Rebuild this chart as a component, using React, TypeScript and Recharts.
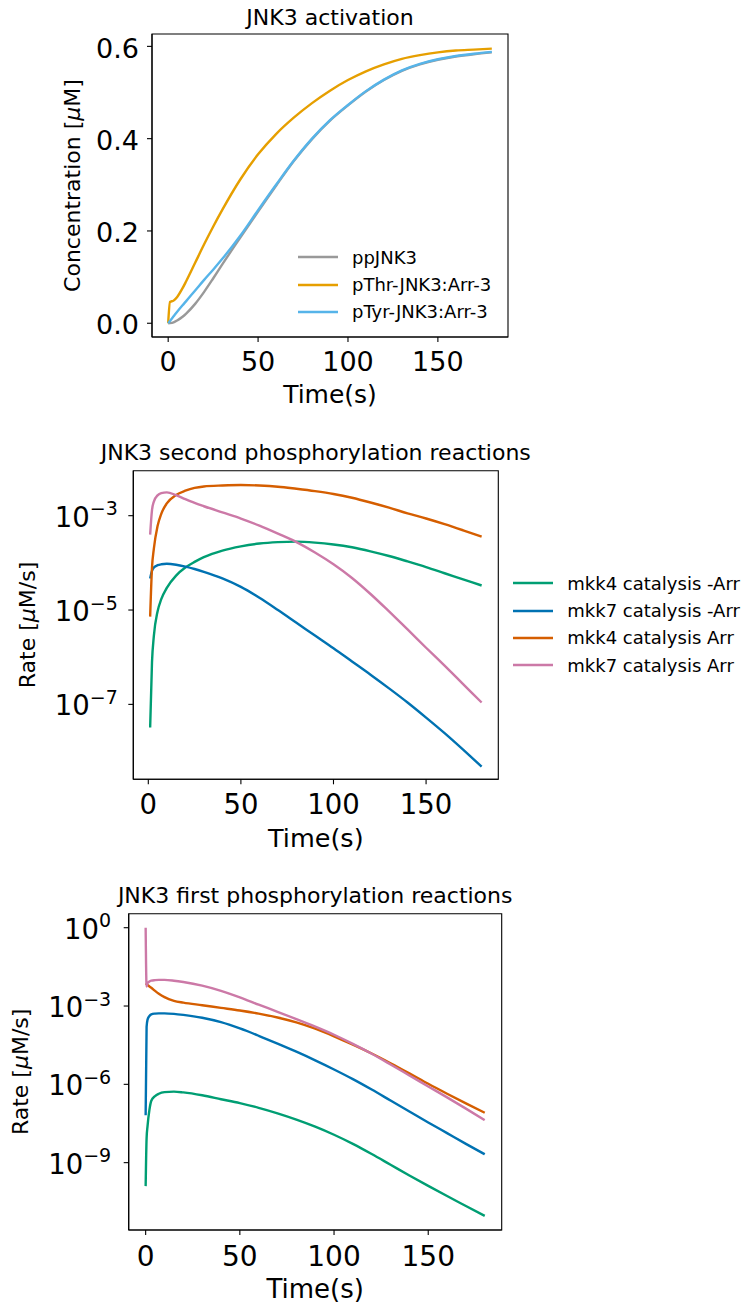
import { Label, Legend, Line, LineChart, ReferenceArea, XAxis, YAxis } from 'recharts';

// ---- JNK3 activation (concentration, uM) ----
const TIME_ACT = [0, 1, 3, 5, 8, 10, 15, 20, 25, 30, 40, 50, 60, 70, 80, 90, 100, 110, 120, 130, 140, 150, 160, 170, 180];
const PP_JNK3 = [0, 0.0003, 0.002, 0.006, 0.014, 0.021, 0.042, 0.068, 0.097, 0.127, 0.185, 0.242, 0.298, 0.352, 0.399, 0.439, 0.472, 0.502, 0.527, 0.547, 0.561, 0.571, 0.578, 0.583, 0.587];
const P_THR_ARR = [0, 0.046, 0.049, 0.057, 0.076, 0.091, 0.131, 0.171, 0.209, 0.245, 0.311, 0.366, 0.41, 0.446, 0.477, 0.504, 0.527, 0.546, 0.561, 0.573, 0.581, 0.587, 0.591, 0.593, 0.595];
const P_TYR_ARR = [0, 0.005, 0.015, 0.025, 0.039, 0.048, 0.071, 0.094, 0.116, 0.139, 0.189, 0.245, 0.3, 0.353, 0.4, 0.44, 0.473, 0.503, 0.528, 0.548, 0.562, 0.572, 0.579, 0.584, 0.588];

// ---- second phosphorylation rates (log10 of uM/s) ----
const TIME_2ND = [1, 2, 3, 5, 7, 10, 15, 20, 25, 30, 40, 50, 60, 70, 80, 90, 100, 110, 120, 130, 140, 150, 160, 170, 180];
const MKK4_NOARR_2 = [-7.49, -6.1, -5.55, -5.03, -4.77, -4.53, -4.27, -4.1, -3.98, -3.88, -3.74, -3.65, -3.59, -3.56, -3.55, -3.57, -3.61, -3.67, -3.755, -3.855, -3.97, -4.09, -4.22, -4.35, -4.48];
const MKK7_NOARR_2 = [-4.33, -4.17, -4.1, -4.05, -4.03, -4.02, -4.04, -4.08, -4.13, -4.19, -4.33, -4.51, -4.74, -5.0, -5.27, -5.54, -5.81, -6.09, -6.37, -6.66, -6.96, -7.28, -7.61, -7.96, -8.32];
const MKK4_ARR_2 = [-5.14, -4.1, -3.7, -3.22, -2.96, -2.74, -2.56, -2.47, -2.41, -2.38, -2.36, -2.35, -2.36, -2.385, -2.43, -2.48, -2.54, -2.62, -2.72, -2.83, -2.95, -3.06, -3.18, -3.31, -3.445];
const MKK7_ARR_2 = [-3.4, -2.88, -2.7, -2.57, -2.52, -2.505, -2.565, -2.65, -2.73, -2.8, -2.93, -3.06, -3.21, -3.38, -3.56, -3.78, -4.03, -4.32, -4.66, -5.03, -5.41, -5.8, -6.18, -6.57, -6.96];

// ---- first phosphorylation rates (log10 of uM/s) ----
const TIME_1ST = [0, 0.5, 1, 2, 3, 5, 7, 10, 15, 20, 30, 40, 50, 60, 70, 80, 90, 100, 110, 120, 130, 140, 150, 160, 170, 180];
const MKK4_NOARR_1 = [-9.9, -8.07, -7.6, -6.98, -6.63, -6.45, -6.36, -6.3, -6.28, -6.31, -6.42, -6.57, -6.72, -6.9, -7.11, -7.35, -7.62, -7.93, -8.28, -8.67, -9.08, -9.49, -9.89, -10.28, -10.66, -11.04];
const MKK7_NOARR_1 = [-7.18, -3.8, -3.52, -3.38, -3.32, -3.29, -3.28, -3.28, -3.3, -3.34, -3.45, -3.62, -3.86, -4.14, -4.44, -4.75, -5.08, -5.43, -5.8, -6.2, -6.62, -7.04, -7.46, -7.87, -8.28, -8.68];
const MKK4_ARR_1 = [-2.13, -2.16, -2.19, -2.25, -2.3, -2.42, -2.53, -2.66, -2.8, -2.87, -2.97, -3.07, -3.17, -3.29, -3.44, -3.63, -3.87, -4.16, -4.48, -4.82, -5.19, -5.58, -5.98, -6.36, -6.73, -7.09];
const MKK7_ARR_1 = [0, -2.25, -2.13, -2.06, -2.03, -2.01, -2.0, -2.0, -2.03, -2.08, -2.22, -2.42, -2.67, -2.95, -3.22, -3.5, -3.79, -4.1, -4.45, -4.83, -5.24, -5.66, -6.08, -6.5, -6.93, -7.37];

const TIME_TICKS = [0, 50, 100, 150];
const CONC_TICKS = [0, 0.2, 0.4, 0.6];
const RATE_TICKS_2ND = [1e-3, 1e-5, 1e-7];
const RATE_TICKS_1ST = [1e0, 1e-3, 1e-6, 1e-9];

const ACT_NAMES = ['ppJNK3', 'pThr-JNK3:Arr-3', 'pTyr-JNK3:Arr-3'];
const RATE_NAMES = ['mkk4 catalysis -Arr', 'mkk7 catalysis -Arr', 'mkk4 catalysis Arr', 'mkk7 catalysis Arr'];

const X_DOM_ACT = [-9, 189];
const Y_DOM_ACT = [-0.0298, 0.6268];
const X_DOM_2ND = [-8.1, 189];
const Y_DOM_2ND = [2.58e-9, 8.99e-3];
const X_DOM_1ST = [-9, 189];
const Y_DOM_1ST = [2.63e-12, 3.44];

const activation = TIME_ACT.map((t, i) => ({ t, pp: PP_JNK3[i], thr: P_THR_ARR[i], tyr: P_TYR_ARR[i] }));
const second = TIME_2ND.map((t, i) => ({
  t,
  m4: 10 ** MKK4_NOARR_2[i],
  m7: 10 ** MKK7_NOARR_2[i],
  m4a: 10 ** MKK4_ARR_2[i],
  m7a: 10 ** MKK7_ARR_2[i],
}));
const first = TIME_1ST.map((t, i) => ({
  t,
  m4: 10 ** MKK4_NOARR_1[i],
  m7: 10 ** MKK7_NOARR_1[i],
  m4a: 10 ** MKK4_ARR_1[i],
  m7a: 10 ** MKK7_ARR_1[i],
}));

const frame = { stroke: '#000', strokeWidth: 1.1 };
const tickLine = { stroke: '#000', strokeWidth: 1.1 };
const LW = 2.4;

const xTick = (size: number, dy: number) => (p: any) => (
  <text x={p.x} y={p.y + dy} textAnchor="middle" fontSize={size} fill="#000">
    {p.payload.value}
  </text>
);

const concTick = (p: any) => (
  <text x={p.x} y={p.y + 11.2} textAnchor="end" fontSize={27} fill="#000">
    {p.payload.value.toFixed(1)}
  </text>
);

const logTick = (p: any) => {
  const exp = Math.round(Math.log10(p.payload.value));
  return (
    <text x={p.x} y={p.y + 11} textAnchor="end" fontSize={27.5} fill="#000">
      10
      <tspan dy={-11.5} fontSize={19}>
        {exp === 0 ? '0' : '\u2212' + Math.abs(exp)}
      </tspan>
    </text>
  );
};

// title sits above the frame rectangle
const title = (text: string, dy: number) => (p: any) => (
  <text x={p.viewBox.x + p.viewBox.width / 2} y={p.viewBox.y + dy} textAnchor="middle" fontSize={22} fill="#000">
    {text}
  </text>
);

const timeLabel = (dy: number, size: number) => (p: any) => (
  <text x={p.viewBox.x + p.viewBox.width / 2} y={p.viewBox.y + dy} textAnchor="middle" fontSize={size} fill="#000">
    Time(s)
  </text>
);

const yLabel = (before: string, after: string, gap: number) => (p: any) => {
  const x = p.viewBox.x + p.viewBox.width - gap;
  const y = p.viewBox.y + p.viewBox.height / 2;
  return (
    <text x={x} y={y} transform={`rotate(-90, ${x}, ${y})`} textAnchor="middle" fontSize={22} fill="#000">
      {before}
      <tspan fontStyle="italic">μ</tspan>
      {after}
    </text>
  );
};

const legendRows = (order: string[]) => (p: any) => {
  const items = [...(p.payload || [])].sort((a: any, b: any) => order.indexOf(a.value) - order.indexOf(b.value));
  return (
    <div>
      {items.map((e: any) => (
        <div key={e.value} style={{ display: 'flex', alignItems: 'center', height: 27.3 }}>
          <svg width={40} height={6}>
            <line x1={0} y1={3} x2={40} y2={3} stroke={e.color} strokeWidth={2.6} />
          </svg>
          <span style={{ marginLeft: 14, fontSize: 18, color: '#000', whiteSpace: 'nowrap' }}>{e.value}</span>
        </div>
      ))}
    </div>
  );
};

const ActivationChart = () => (
  <LineChart width={520} height={420} data={activation} margin={{ top: 34, right: 12, left: 72, bottom: 8 }}>
    <XAxis dataKey="t" type="number" domain={X_DOM_ACT} ticks={TIME_TICKS} allowDataOverflow height={75}
      tickSize={5} tickMargin={10} tickLine={tickLine} axisLine={frame} tick={xTick(27, 19.4)}>
      <Label content={timeLabel(66.3, 25)} />
    </XAxis>
    <YAxis type="number" domain={Y_DOM_ACT} ticks={CONC_TICKS} allowDataOverflow width={80}
      tickSize={5} tickMargin={8} tickLine={tickLine} axisLine={frame} tick={concTick}>
      <Label content={yLabel('Concentration [', 'M]', 72.5)} />
    </YAxis>
    <ReferenceArea x1={X_DOM_ACT[0]} x2={X_DOM_ACT[1]} y1={Y_DOM_ACT[0]} y2={Y_DOM_ACT[1]}
      fill="none" stroke="#000" strokeWidth={1.1} ifOverflow="visible">
      <Label content={title('JNK3 activation', -9)} />
    </ReferenceArea>
    <Legend layout="vertical" align="center" verticalAlign="middle" content={legendRows(ACT_NAMES)}
      wrapperStyle={{ left: 298, top: 243.6, width: 220 }} />
    <Line type="monotone" dataKey="pp" name={ACT_NAMES[0]} stroke="#999999" strokeWidth={LW} dot={false} isAnimationActive={false} />
    <Line type="monotone" dataKey="thr" name={ACT_NAMES[1]} stroke="#E69F00" strokeWidth={LW} dot={false} isAnimationActive={false} />
    <Line type="monotone" dataKey="tyr" name={ACT_NAMES[2]} stroke="#56B4E9" strokeWidth={LW} dot={false} isAnimationActive={false} />
  </LineChart>
);

const SecondChart = () => (
  <LineChart width={750} height={440} data={second} margin={{ top: 40.7, right: 251.7, left: 33.3, bottom: 10.7 }}>
    <XAxis dataKey="t" type="number" domain={X_DOM_2ND} ticks={TIME_TICKS} allowDataOverflow height={80}
      tickSize={5} tickMargin={10} tickLine={tickLine} axisLine={frame} tick={xTick(27.5, 19.7)}>
      <Label content={timeLabel(67.7, 25.5)} />
    </XAxis>
    <YAxis type="number" scale="log" domain={Y_DOM_2ND} ticks={RATE_TICKS_2ND} allowDataOverflow width={100}
      tickSize={5} tickMargin={10.5} tickLine={tickLine} axisLine={frame} tick={logTick}>
      <Label content={yLabel('Rate [', 'M/s]', 98.3)} />
    </YAxis>
    <ReferenceArea x1={X_DOM_2ND[0]} x2={X_DOM_2ND[1]} y1={Y_DOM_2ND[0]} y2={Y_DOM_2ND[1]}
      fill="none" stroke="#000" strokeWidth={1.1} ifOverflow="visible">
      <Label content={title('JNK3 second phosphorylation reactions', -10.7)} />
    </ReferenceArea>
    <Legend layout="vertical" align="center" verticalAlign="middle" content={legendRows(RATE_NAMES)}
      wrapperStyle={{ left: 513.3, top: 139.6, width: 237 }} />
    <Line type="monotone" dataKey="m4" name={RATE_NAMES[0]} stroke="#009E73" strokeWidth={LW} dot={false} isAnimationActive={false} />
    <Line type="monotone" dataKey="m7" name={RATE_NAMES[1]} stroke="#0072B2" strokeWidth={LW} dot={false} isAnimationActive={false} />
    <Line type="monotone" dataKey="m4a" name={RATE_NAMES[2]} stroke="#D55E00" strokeWidth={LW} dot={false} isAnimationActive={false} />
    <Line type="monotone" dataKey="m7a" name={RATE_NAMES[3]} stroke="#CC79A7" strokeWidth={LW} dot={false} isAnimationActive={false} />
  </LineChart>
);

const FirstChart = () => (
  <LineChart width={520} height={438} data={first} margin={{ top: 43.7, right: 18.3, left: 28.7, bottom: 3 }}>
    <XAxis dataKey="t" type="number" domain={X_DOM_1ST} ticks={TIME_TICKS} allowDataOverflow height={75}
      tickSize={5} tickMargin={11} tickLine={tickLine} axisLine={frame} tick={xTick(28, 20)}>
      <Label content={timeLabel(68.3, 26)} />
    </XAxis>
    <YAxis type="number" scale="log" domain={Y_DOM_1ST} ticks={RATE_TICKS_1ST} allowDataOverflow width={100}
      tickSize={5} tickMargin={12.5} tickLine={tickLine} axisLine={frame} tick={logTick}>
      <Label content={yLabel('Rate [', 'M/s]', 100.7)} />
    </YAxis>
    <ReferenceArea x1={X_DOM_1ST[0]} x2={X_DOM_1ST[1]} y1={Y_DOM_1ST[0]} y2={Y_DOM_1ST[1]}
      fill="none" stroke="#000" strokeWidth={1.1} ifOverflow="visible">
      <Label content={title('JNK3 first phosphorylation reactions', -10.4)} />
    </ReferenceArea>
    <Line type="monotone" dataKey="m4" stroke="#009E73" strokeWidth={LW} dot={false} isAnimationActive={false} />
    <Line type="monotone" dataKey="m7" stroke="#0072B2" strokeWidth={LW} dot={false} isAnimationActive={false} />
    <Line type="monotone" dataKey="m4a" stroke="#D55E00" strokeWidth={LW} dot={false} isAnimationActive={false} />
    <Line type="monotone" dataKey="m7a" stroke="#CC79A7" strokeWidth={LW} dot={false} isAnimationActive={false} />
  </LineChart>
);

export default function App() {
  return (
    <div style={{ position: 'absolute', left: 0, top: 0, width: 750, height: 1308, background: '#fff', fontFamily: "'DejaVu Sans', sans-serif" }}>
      <div style={{ position: 'absolute', left: 0, top: 0 }}>
        <ActivationChart />
      </div>
      <div style={{ position: 'absolute', left: 0, top: 430 }}>
        <SecondChart />
      </div>
      <div style={{ position: 'absolute', left: 0, top: 870 }}>
        <FirstChart />
      </div>
    </div>
  );
}
